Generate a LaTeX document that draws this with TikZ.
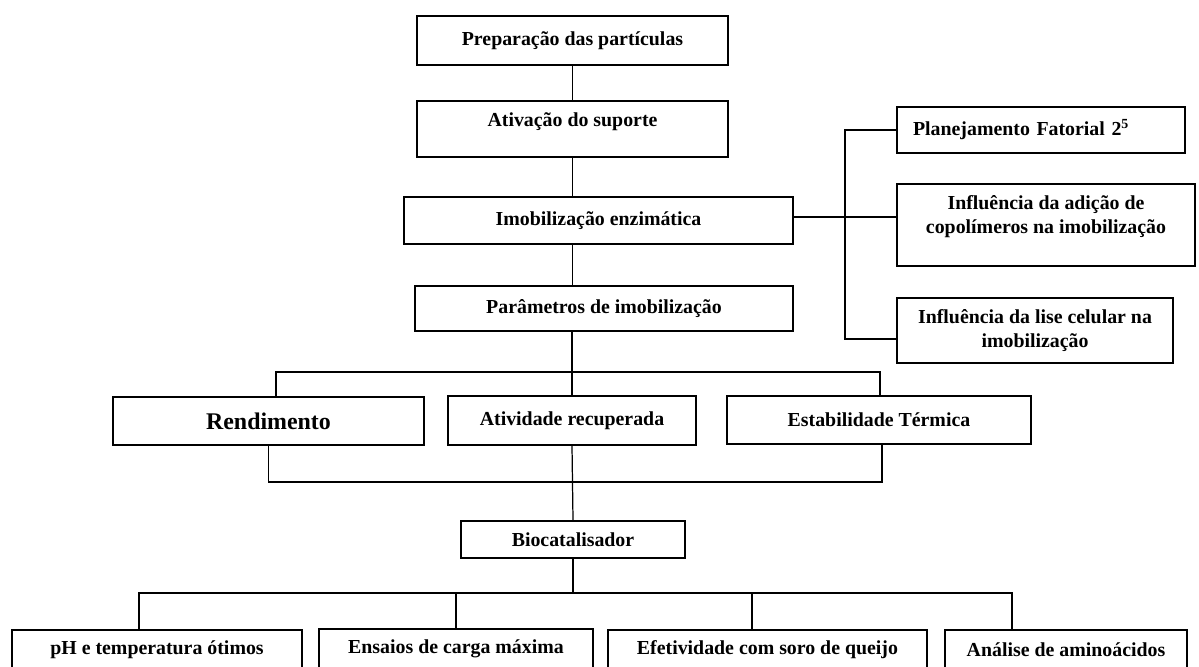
\documentclass[tikz,border=0pt]{standalone}
\usepackage{fontspec}
\setmainfont{Liberation Serif}
\usetikzlibrary{positioning,calc}

\begin{document}
\begin{tikzpicture}[x=0.02cm,y=-0.02cm,
    txt/.style={font=\bfseries\fontsize{11.3}{13.8}\selectfont},
    box/.style={draw,line width=0.9pt,align=center,inner sep=2pt,txt},
    lift/.style={text depth=#1},
    ln/.style={line width=0.7pt}]
  \useasboundingbox (0,0) rectangle (1199,666);
  % main column
  \node[box,minimum width=6.22cm,minimum height=0.98cm] (prep) at (572.5,40.5) {Preparação das partículas};
  \node[box,minimum width=6.22cm,minimum height=1.12cm,lift=0.37cm] (ativ) at (572.5,129) {Ativação do suporte};
  \node[box,minimum width=7.78cm,minimum height=0.94cm] (imob) at (598.5,220.5) {Imobilização enzimática};
  \node[box,minimum width=7.56cm,minimum height=0.9cm] (param) at (604,308.5) {Parâmetros de imobilização};
  % right branch
  \node[box,text width=5.12cm,align=left,inner xsep=0.32cm,minimum height=0.92cm] (plan) at (1041,130) {Planejamento Fatorial 2\textsuperscript{5}};
  \node[box,minimum width=5.96cm,minimum height=1.64cm,lift=0.41cm] (adic) at (1046,225) {Influência da adição de\\copolímeros na imobilização};
  \node[box,minimum width=5.52cm,minimum height=1.3cm] (lise) at (1035,330.5) {Influência da lise celular na\\imobilização};
  % parameters
  \node[box,minimum width=6.22cm,minimum height=0.96cm,font=\bfseries\fontsize{13.6}{16}\selectfont] (rend) at (268.5,421) {Rendimento};
  \node[box,minimum width=4.96cm,minimum height=0.98cm] (ativr) at (572,420.5) {Atividade recuperada};
  \node[box,minimum width=6.08cm,minimum height=0.96cm] (estab) at (879,420) {Estabilidade Térmica};
  \node[box,minimum width=4.48cm,minimum height=0.74cm] (bio) at (573,539.5) {Biocatalisador};
  % tests
  \node[box,minimum width=5.8cm,minimum height=0.8cm] (ph) at (157,650) {pH e temperatura ótimos};
  \node[box,minimum width=5.48cm,minimum height=0.8cm] (ens) at (456,649) {Ensaios de carga máxima};
  \node[box,minimum width=6.38cm,minimum height=0.8cm] (efet) at (767.5,650) {Efetividade com soro de queijo};
  \node[box,minimum width=4.84cm,minimum height=0.8cm] (anal) at (1066,650) {Análise de aminoácidos};
  \coordinate (tk) at (845,217);
  \coordinate (b1) at (572,372);
  \coordinate (b2) at (572,482);
  \coordinate (b3) at (573,593);
  \draw[ln] (prep) -- (ativ);
  \draw[ln] (ativ.south) -- (ativ.south |- imob.north);
  \draw[ln] (ativ.south |- imob.south) -- (ativ.south |- param.north);
  \draw[ln] (plan.west) -| (tk) |- ([yshift=-0.17cm]lise.west);
  \draw[ln] (imob.east |- tk) -- (tk -| adic.west);
  \draw[ln] (param.south -| b1) -- (ativr.north);
  \draw[ln] ([xshift=0.15cm]rend.north) |- (b1) -| ([xshift=0.02cm]estab.north);
  \draw[ln] (rend.south) |- (b2) -| ([xshift=0.06cm]estab.south);
  \draw[ln] (ativr.south) -- (bio.north);
  \draw[ln] (bio.south) -- (b3);
  \draw[ln] ([xshift=-0.36cm]ph.north) |- (b3) -| ([xshift=-1.08cm]anal.north);
  \draw[ln] (ens.north) -- (ens.north |- b3);
  \draw[ln] ([xshift=-0.31cm]efet.north) -- ([xshift=-0.31cm]efet.north |- b3);
\end{tikzpicture}
\end{document}
